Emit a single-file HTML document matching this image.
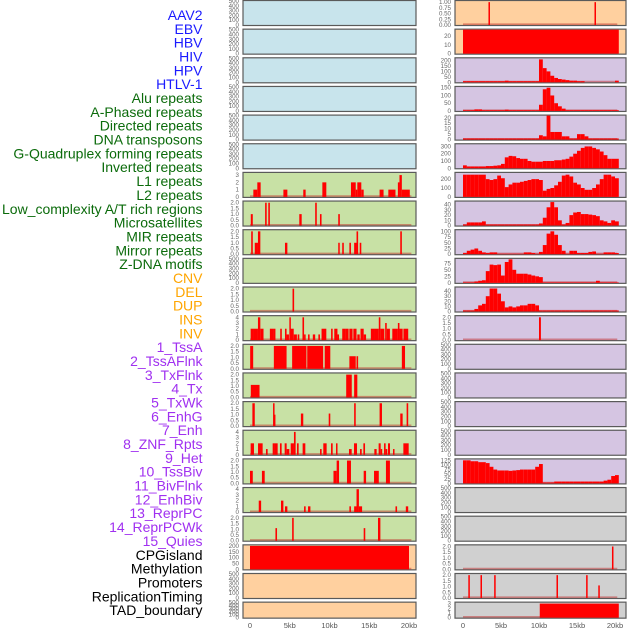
<!DOCTYPE html>
<html><head><meta charset="utf-8"><style>
html,body{margin:0;padding:0;background:#fff;width:630px;height:630px;overflow:hidden}
svg{display:block;font-family:"Liberation Sans",sans-serif}
</style></head><body>
<svg id="chart" width="630" height="630" viewBox="0 0 630 630" xmlns="http://www.w3.org/2000/svg"></svg>
<script>
// ---------- labels ----------
const labels = ["AAV2","EBV","HBV","HIV","HPV","HTLV-1","Alu repeats","A-Phased repeats","Directed repeats","DNA transposons","G-Quadruplex forming repeats","Inverted repeats","L1 repeats","L2 repeats","Low_complexity A/T rich regions","Microsatellites","MIR repeats","Mirror repeats","Z-DNA motifs","CNV","DEL","DUP","INS","INV","1_TssA","2_TssAFlnk","3_TxFlnk","4_Tx","5_TxWk","6_EnhG","7_Enh","8_ZNF_Rpts","9_Het","10_TssBiv","11_BivFlnk","12_EnhBiv","13_ReprPC","14_ReprPCWk","15_Quies","CPGisland","Methylation","Promoters","ReplicationTiming","TAD_boundary"];
const labelGroups = [6,13,5,15,5];
const groupColors = ["#1a1aff","#0b6b0b","#ffa500","#a030f0","#000000"];
const xTicks = [0,5,10,15,20];
const xTickLabels = ["0","5kb","10kb","15kb","20kb"];

// ---------- left column data: [startKb,endKb,value] ----------
const L6 = [[0.42,0.92,1],[0.92,1.34,2],[4.2,4.7,1],[6.7,7.0,1],[9.1,9.6,2],[12.7,13.3,2],[13.3,13.5,1],[13.5,14.0,2],[14.0,14.3,1],[16.3,16.8,1],[17.4,18.3,1],[18.6,18.8,2],[18.8,19.1,3],[19.1,20.1,1]];
const L7 = [[0.1,0.35,1],[1.9,2.1,2],[2.3,2.5,2],[6.2,6.5,1],[8.2,8.4,2],[8.8,9.0,1],[11.1,11.3,1]];
const L8 = [[0.15,0.35,2],[0.6,1.0,1],[1.0,1.3,2],[4.4,4.7,1],[11.1,11.25,1],[11.6,11.8,1],[12.5,12.7,1],[13.1,13.4,1],[13.4,13.6,2],[13.8,14.0,1],[18.9,19.1,2]];
const L10 = [[5.35,5.55,2]];
const L11 = [[0.08,0.5,2],[0.5,1.0,2],[1.0,1.3,4],[1.3,1.7,2],[2.5,2.9,2],[2.9,3.2,2],[3.8,4.0,2],[4.4,4.6,2],[4.6,4.9,1],[4.95,5.1,4],[5.1,5.5,2],[5.5,5.9,1],[6.0,6.2,1],[6.6,6.8,4],[6.8,7.0,1],[7.3,7.5,1],[7.9,8.2,1],[8.6,8.8,1],[9.0,9.6,2],[10.2,10.4,2],[10.6,11.0,2],[11.0,11.2,1],[11.6,12.0,2],[12.0,12.4,2],[12.5,12.9,2],[13.0,13.4,2],[13.5,13.8,1],[13.9,14.3,2],[14.3,14.6,1],[15.2,15.6,2],[15.6,16.2,2],[16.2,16.4,4],[16.4,16.9,2],[17.0,17.2,3],[17.2,17.6,2],[17.9,18.3,2],[18.3,18.6,2],[18.6,18.8,3],[18.8,19.2,2],[19.3,19.9,2]];
const L12 = [[0.02,0.4,2],[3.0,4.6,2],[5.3,7.1,2],[7.2,9.2,2],[9.4,10.1,2],[12.5,13.3,1.1],[13.4,13.6,1.1],[19.1,19.5,2]];
const L13 = [[0.1,1.2,1.1],[12.1,12.8,2],[13.1,13.5,2]];
const L14 = [[0.3,0.6,2],[2.9,3.0,2],[3.0,3.2,1],[6.4,6.7,1.1],[9.9,10.1,1.1],[13.1,13.3,2],[16.3,16.6,2],[18.9,19.2,1.1],[19.7,19.9,2]];
const L15 = [[0.08,0.5,2],[1.01,1.59,2],[2.01,2.22,1],[2.85,3.14,2],[3.14,3.48,2],[3.77,3.98,2],[4.36,4.61,2],[4.61,4.95,1],[5.12,5.53,2],[5.53,5.74,4],[5.91,6.12,2],[6.62,6.96,2],[8.81,9.01,1],[9.22,9.64,2],[10.19,10.4,2],[10.82,10.99,2],[12.45,12.79,1],[13.08,13.46,2],[13.84,14.05,1],[14.26,14.47,2],[15.64,15.93,1],[16.18,16.44,2],[16.44,16.6,1],[16.86,17.06,2],[17.06,17.27,1],[17.36,17.61,2],[17.99,18.16,1],[19.29,19.96,2]];
const L16 = [[0.0,0.35,1.1],[1.5,1.85,1.1],[10.5,10.9,1.1],[10.9,11.2,2],[12.2,12.7,2],[14.3,14.6,1.1],[15.6,16.2,1.1],[17.1,17.6,2]];
const L17 = [[1.1,1.4,2],[3.9,4.2,2],[4.4,4.7,1],[6.8,7.0,1],[7.3,7.6,1],[12.5,12.7,1],[13.1,13.4,1],[13.4,13.7,4],[13.7,14.1,1],[18.3,18.5,1],[19.6,19.9,1]];
const L18 = [[3.2,3.4,1.1],[5.3,5.5,2],[14.3,14.5,1.1],[16.1,16.4,2]];
const L19 = [[0,20,200]];

// ---------- right column data ----------
const R0 = [[3.35,3.55,1],[17.3,17.5,1]];
const R1 = [[0,20.5,27]];
// binned profiles (0.5 kb bins starting at 0)
const R2 = [10,10,10,10,10,10,10,10,10,10,10,15,10,10,10,10,10,10,10,10,210,130,100,60,40,30,25,20,15,15,10,10,0,0,0,0,0,0,0,0,15];
const R3 = [5,5,5,10,10,5,5,5,5,5,5,8,5,5,5,5,5,5,5,5,40,140,150,100,50,30,15,5,5,5,5,5,5,5,5,5,5,5,5,5,5];
const R4 = [1,1,1,1,1,1,1,1,1,1,1,1,1,1,1,1,1,1,1,1,4,3,22,7,7,7,3,3,1,1,5,5,3,1,1,1,1,1,1,1,1];
const R5 = [40,25,25,25,25,25,30,30,35,40,60,150,170,165,140,130,130,100,90,90,90,100,100,100,110,110,120,130,160,200,240,280,300,300,280,260,230,180,130,130,130];
const R6 = [250,250,250,250,250,250,200,190,200,240,210,110,140,160,160,170,180,190,200,200,190,70,90,100,130,170,240,250,230,160,140,100,80,80,100,140,200,250,250,230,210];
const R7 = [2,6,6,6,6,8,2,2,2,2,2,2,2,2,2,2,2,2,2,2,4,15,35,45,35,10,2,5,20,25,26,22,22,21,20,18,10,8,5,10,8];
const R8 = [5,15,20,25,15,8,5,8,8,2,2,2,2,2,2,2,8,8,5,2,10,40,90,100,85,40,15,2,15,15,5,5,5,10,12,2,2,8,8,8,5];
const R9 = [2,2,2,5,8,10,45,70,68,70,28,80,90,50,35,35,35,32,28,25,22,2,2,2,2,2,2,2,2,2,2,2,2,2,2,8,2,2,2,2,2];
const R10 = [2,2,2,5,12,15,30,45,45,35,20,8,10,8,10,12,12,15,15,12,2,2,2,2,2,2,2,2,2,2,2,2,2,2,2,2,2,2,2,2,2];
const R11 = [[10.0,10.25,2]];
const R16 = [125,125,120,120,115,115,110,90,75,70,70,70,68,70,72,75,75,75,75,90,105,5,5,5,10,10,10,10,10,10,10,10,10,10,10,10,10,15,20,40,45];
const R19 = [[19.6,19.8,2]];
const R20 = [[0.7,0.9,2],[2.3,2.5,2],[4.1,4.3,2],[12.3,12.5,2],[16.2,16.4,2],[17.8,18.0,1.1]];
const R21 = [[10.1,20.5,3]];

const EMPTY_TICKS = [0,100,200,300,400,500];
const BG = {blue:"#c8e4ec",green:"#c8e1a5",orange:"#ffd09f",purple:"#d5c5e2",grey:"#d0d0d0"};

const leftRows = [
 ["blue",500,EMPTY_TICKS,null],["blue",500,EMPTY_TICKS,null],["blue",500,EMPTY_TICKS,null],["blue",500,EMPTY_TICKS,null],["blue",500,EMPTY_TICKS,null],["blue",500,EMPTY_TICKS,null],
 ["green",3.3,[0,1,2,3],L6],["green",2.1,[0,0.5,1,1.5,2],L7],["green",2.1,[0,0.5,1,1.5,2],L8],["green",500,EMPTY_TICKS,null],["green",2.1,[0,0.5,1,1.5,2],L10],["green",4.2,[0,1,2,3,4],L11],
 ["green",2.1,[0,0.5,1,1.5,2],L12],["green",2.1,[0,0.5,1,1.5,2],L13],["green",2.1,[0,0.5,1,1.5,2],L14],["green",4.2,[0,1,2,3,4],L15],["green",2.1,[0,0.5,1,1.5,2],L16],["green",4.2,[0,1,2,3,4],L17],["green",2.1,[0,0.5,1,1.5,2],L18],
 ["orange",205,[0,50,100,150,200],L19],["orange",500,EMPTY_TICKS,null],["orange",500,EMPTY_TICKS,null]
];
const rightRows = [
 ["orange",1.05,[0,0.25,0.5,0.75,1],R0],["orange",27,[0,10,20],R1],
 ["purple",220,[0,50,100,150,200],R2],["purple",155,[0,50,100,150],R3],["purple",22,[0,5,10,15,20],R4],["purple",330,[0,100,200,300],R5],["purple",270,[0,100,200],R6],["purple",46,[0,10,20,30,40],R7],["purple",105,[0,25,50,75,100],R8],["purple",92,[0,25,50,75],R9],["purple",47,[0,10,20,30,40],R10],["purple",2.1,[0,0.5,1,1.5,2],R11],
 ["purple",500,EMPTY_TICKS,null],["purple",500,EMPTY_TICKS,null],["purple",500,EMPTY_TICKS,null],["purple",500,EMPTY_TICKS,null],["purple",130,[0,25,50,75,100,125],R16],
 ["grey",500,EMPTY_TICKS,null],["grey",500,EMPTY_TICKS,null],["grey",2.1,[0,0.5,1,1.5,2],R19],["grey",2.1,[0,0.5,1,1.5,2],R20],["grey",3.2,[0,1,2,3],R21]
];

const NS = "http://www.w3.org/2000/svg";
const svg = document.getElementById("chart");
function mk(tag, attrs, parent){const e=document.createElementNS(NS,tag);for(const k in attrs)e.setAttribute(k,attrs[k]);(parent||svg).appendChild(e);return e;}

// axis functions
const colL = {x0:243,x1:416,kb0:250,kb20:409,tickX:239};
const colR = {x0:455,x1:626,kb0:463,kb20:615,tickX:451};
function xScale(col,kb){return col.kb0+(col.kb20-col.kb0)*kb/20;}
function rowTop(i){return 0.5+i*28.65;}
function rowH(i){return i===21?16:25;}
function yScale(i,max,v){const t=rowTop(i),h=rowH(i);return t+h-0.5-(h-1)*v/max;}
function fmt(v,ticks){const dec=ticks.some(t=>t%1!==0);return dec?v.toFixed(ticks.some(t=>(t*4)%1!==0||t%0.5!==0)?2:1):String(v);}

function drawCol(col,rows,side){
  rows.forEach((r,i)=>{
    const [bg,max,ticks,data]=r;
    const t=rowTop(i),h=rowH(i);
    const g=mk("g",{});
    
    
    const rect=mk("rect",{x:col.x0,y:t,width:col.x1-col.x0,height:h,fill:BG[bg],stroke:"#5a5a5a","stroke-width":1.2},g);
    
    
    if(data){
      const base=mk("line",{x1:xScale(col,0),x2:xScale(col,20.3),y1:t+h-1.3,y2:t+h-1.3,stroke:"rgba(190,30,30,0.45)","stroke-width":1.6},g);
      
      
      const binned=typeof data[0]==="number";
      data.forEach((d,k)=>{
        let s,e,v;
        if(binned){s=k*0.5;e=s+0.5;v=d;}else{[s,e,v]=d;}
        if(v<=0)return;
        const x1=xScale(col,s),x2=Math.max(xScale(col,e),x1+1.5);
        const y=yScale(i,max,Math.min(v,max));
        const b=mk("rect",{x:x1,y:y,width:x2-x1,height:t+h-0.5-y,fill:"#ff0000"},g);
        
        
      });
    }
    ticks.forEach(tv=>{
      const tx=mk("text",{x:col.tickX,y:yScale(i,max,tv)+2,"font-size":6.2,fill:"#666","text-anchor":"end"},g);
      tx.textContent=fmt(tv,ticks);
      
      
    });
  });
  xTicks.forEach((v,k)=>{
    const tx=mk("text",{x:xScale(col,v),y:628,"font-size":7.5,fill:"#555","text-anchor":"middle"});
    tx.textContent=xTickLabels[k];
    
    
  });
}
drawCol(colL,leftRows,'left');
drawCol(colR,rightRows,'right');

// track labels
let gi=0,cnt=0;
labels.forEach((lab,k)=>{
  if(cnt>=labelGroups[gi]){gi++;cnt=0;}
  cnt++;
  const tx=mk("text",{x:202.5,y:20+k*13.84,"font-size":14,fill:groupColors[gi],"text-anchor":"end"});
  tx.textContent=lab;
  
  
});
</script>
</body></html>
